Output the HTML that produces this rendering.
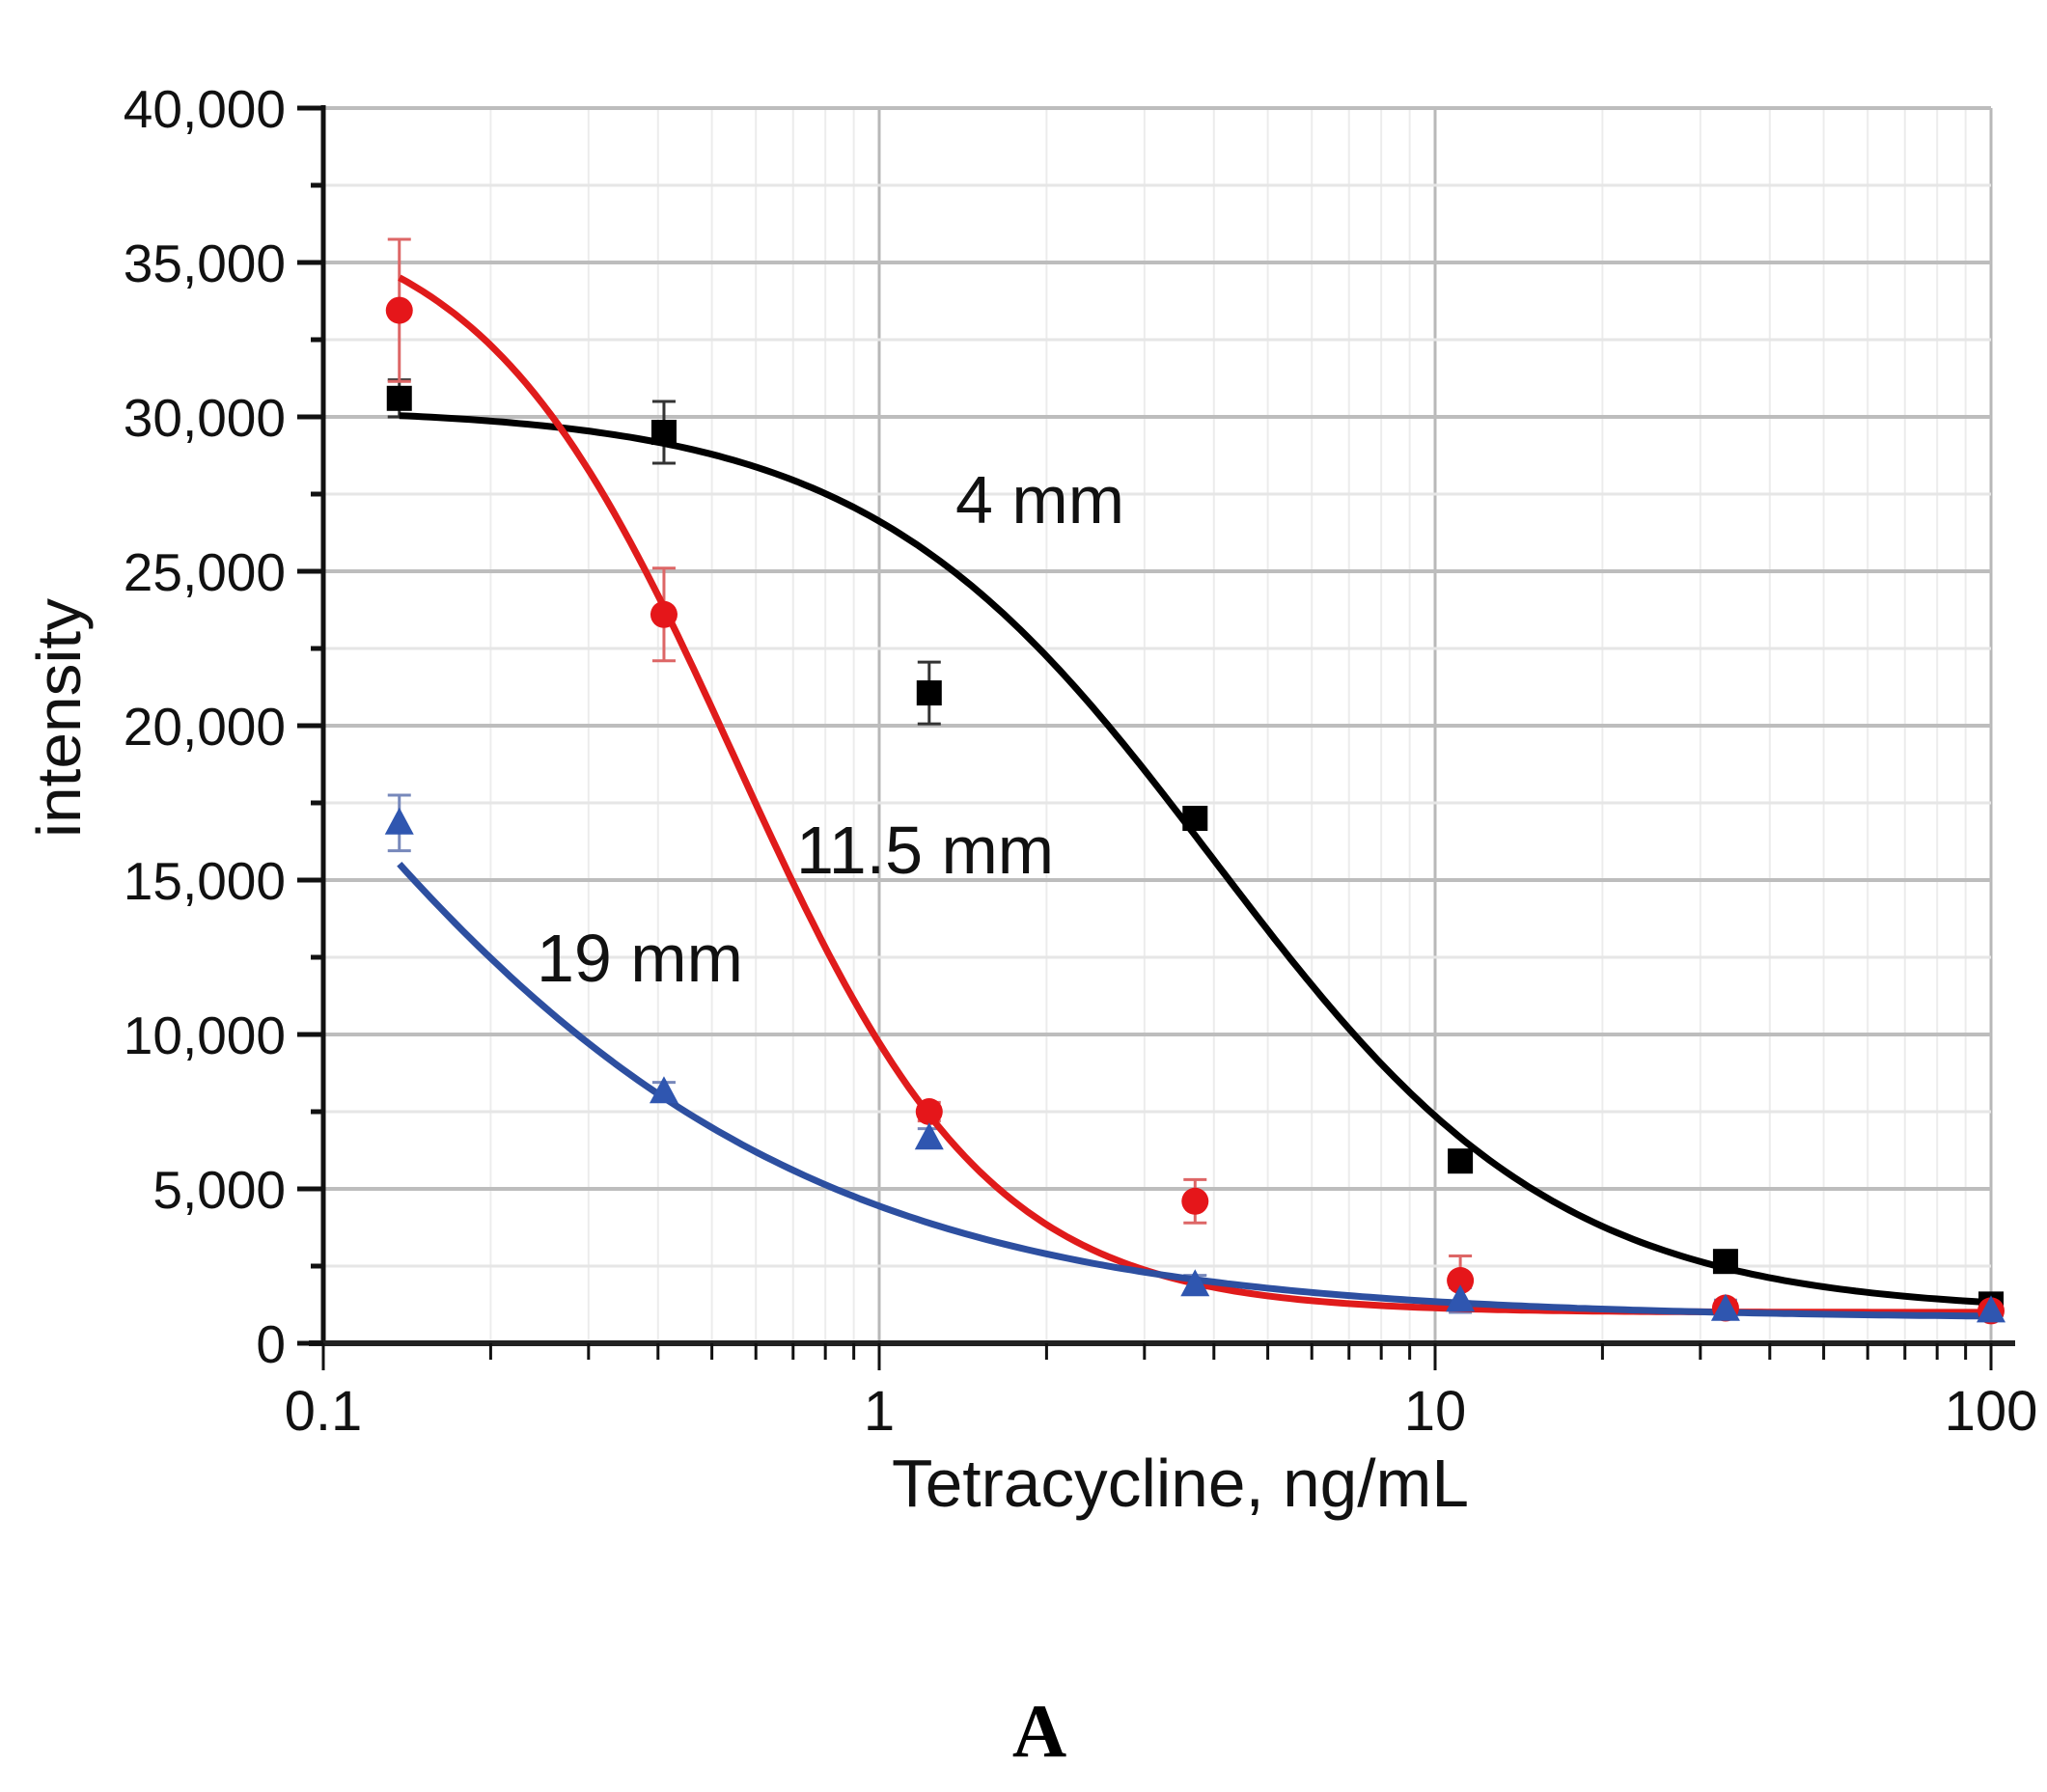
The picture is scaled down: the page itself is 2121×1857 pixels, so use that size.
<!DOCTYPE html>
<html><head><meta charset="utf-8"><style>
html,body{margin:0;padding:0;background:#fff;}
svg{display:block;font-family:"Liberation Sans",Arial,sans-serif;}
</style></head><body>
<svg id="chart" width="2121" height="1857" viewBox="0 0 2121 1857" xmlns="http://www.w3.org/2000/svg">
<g id="grid"></g>
<g id="axes"></g>
<g id="series"></g>
<text x="990" y="542" font-size="70" fill="#111">4 mm</text>
<text x="825" y="905" font-size="70" fill="#111">11.5 mm</text>
<text x="556" y="1017" font-size="70" fill="#111">19 mm</text>
<text x="924" y="1561" font-size="70" textLength="598" lengthAdjust="spacingAndGlyphs" fill="#111">Tetracycline, ng/mL</text>
<text transform="translate(83,744) rotate(-90)" text-anchor="middle" font-size="64" textLength="248" lengthAdjust="spacingAndGlyphs" fill="#111">intensity</text>
<text x="1077" y="1820" text-anchor="middle" font-size="78" font-weight="bold" font-family="Liberation Serif, serif" fill="#000">A</text>
</svg>
<script>
const conc = [0.137, 0.41, 1.23, 3.7, 11.1, 33.3, 100];
const black4mm = [30600, 29500, 21060, 17000, 5900, 2650, 1270];
const black4mmErr = [600, 1000, 1000, 300, 300, 300, 200];
const red115mm = [33450, 23600, 7500, 4600, 2030, 1140, 1050];
const red115mmErr = [2300, 1500, 300, 700, 800, 200, 200];
const blue19mm = [16850, 8150, 6650, 1900, 1400, 1100, 1050];
const blue19mmErr = [900, 300, 300, 300, 400, 300, 300];
// 4PL fit parameters [top, bottom, ic50, hill]
const fitBlack = [30300, 1000, 4.0, 1.4];
const fitRed = [36900, 1000, 0.55, 1.9];
const fitBlue = [48000, 800, 0.054, 0.85];
const yTicks = [0, 5000, 10000, 15000, 20000, 25000, 30000, 35000, 40000];
const yTickLabels = ["0", "5,000", "10,000", "15,000", "20,000", "25,000", "30,000", "35,000", "40,000"];
const xTicks = [0.1, 1, 10, 100];
const xTickLabels = ["0.1", "1", "10", "100"];

const NS = "http://www.w3.org/2000/svg";
const X0 = 335, DEC = 576, Y0 = 1392, YS = 1280 / 40000;
function xs(v){ return X0 + Math.log10(v / 0.1) * DEC; }
function ys(v){ return Y0 - v * YS; }
function mk(parent, tag, attrs){ const e = document.createElementNS(NS, tag); for (const k in attrs) e.setAttribute(k, attrs[k]); parent.appendChild(e); return e; }
const grid = document.getElementById('grid'), axes = document.getElementById('axes'), ser = document.getElementById('series');
const xRight = 2063, yTop = ys(40000);

for (let d = 0; d < 3; d++) {
  for (let m = 1; m <= 9; m++) {
    const v = 0.1 * Math.pow(10, d) * m;
    const x = xs(v);
    const l = mk(grid, 'line', {x1:x, y1:yTop, x2:x, y2:Y0, stroke: m===1 ? '#b8b8b8' : '#ececec', 'stroke-width': m===1 ? 3 : 2});
    
    
  }
}
const rl = mk(grid, 'line', {x1:xs(100), y1:yTop, x2:xs(100), y2:Y0, stroke:'#b8b8b8', 'stroke-width':3});


for (let v = 2500; v <= 40000; v += 2500) {
  const y = ys(v);
  const major = v % 5000 === 0;
  const l = mk(grid, 'line', {x1:X0, y1:y, x2:xRight, y2:y, stroke: major ? '#bdbdbd' : '#e6e6e6', 'stroke-width': major ? 4 : 3});
  
  
}
const ya = mk(axes, 'line', {x1:X0, y1:yTop-3, x2:X0, y2:Y0+3, stroke:'#111', 'stroke-width':5});


const xa = mk(axes, 'line', {x1:X0-15, y1:Y0, x2:2088, y2:Y0, stroke:'#222', 'stroke-width':6});


yTicks.forEach((v, i) => {
  const y = ys(v);
  const t = mk(axes, 'line', {x1:308, y1:y, x2:X0, y2:y, stroke:'#111', 'stroke-width':5});
  
  
  const tx = mk(axes, 'text', {x:296, y:y+20, 'text-anchor':'end', 'font-size':55, fill:'#111'});
  tx.textContent = yTickLabels[i];
  
  
  if (i < yTicks.length - 1) {
    const ym = ys(v + 2500);
    const mt = mk(axes, 'line', {x1:322, y1:ym, x2:X0, y2:ym, stroke:'#111', 'stroke-width':5});
    
    
  }
});
for (let d = 0; d < 3; d++) {
  for (let m = 2; m <= 9; m++) {
    const x = xs(0.1 * Math.pow(10, d) * m);
    const t = mk(axes, 'line', {x1:x, y1:Y0, x2:x, y2:Y0+17, stroke:'#111', 'stroke-width':3});
    
    
  }
}
xTicks.forEach((v, i) => {
  const x = xs(v);
  const t = mk(axes, 'line', {x1:x, y1:Y0, x2:x, y2:Y0+28, stroke:'#111', 'stroke-width':3});
  
  
  const tx = mk(axes, 'text', {x:x, y:1482, 'text-anchor':'middle', 'font-size':58, fill:'#111'});
  tx.textContent = xTickLabels[i];
  
  
});

function fourPL(p, x){ return p[1] + (p[0] - p[1]) / (1 + Math.pow(x / p[2], p[3])); }
function curve(p, color, name){
  let d = '';
  for (let i = 0; i <= 200; i++) {
    const x = conc[0] * Math.pow(conc[conc.length-1] / conc[0], i / 200);
    d += (i ? 'L' : 'M') + xs(x).toFixed(1) + ',' + ys(fourPL(p, x)).toFixed(1);
  }
  const c = mk(ser, 'path', {d:d, fill:'none', stroke:color, 'stroke-width':7});
  
  
}
function errs(vals, e, color, name){
  vals.forEach((v, i) => {
    const x = xs(conc[i]);
    const g = mk(ser, 'path', {d:`M${x},${ys(v+e[i])}V${ys(v-e[i])}M${x-12},${ys(v+e[i])}H${x+12}M${x-12},${ys(v-e[i])}H${x+12}`, stroke:color, 'stroke-width':3, fill:'none'});
    
    
  });
}
errs(black4mm, black4mmErr, '#333', 'error-bar-4mm');
errs(red115mm, red115mmErr, '#d66', 'error-bar-11-5mm');
errs(blue19mm, blue19mmErr, '#7788bb', 'error-bar-19mm');
curve(fitBlack, '#000', 'fit-curve-4mm');
curve(fitRed, '#e01b1b', 'fit-curve-11-5mm');
curve(fitBlue, '#2d4fa0', 'fit-curve-19mm');
black4mm.forEach((v, i) => {
  const s = mk(ser, 'rect', {x:xs(conc[i])-13, y:ys(v)-13, width:26, height:26, fill:'#000'});
  
  
});
red115mm.forEach((v, i) => {
  const c = mk(ser, 'circle', {cx:xs(conc[i]), cy:ys(v), r:14, fill:'#e5161a'});
  
  
});
blue19mm.forEach((v, i) => {
  const x = xs(conc[i]), y = ys(v);
  const t = mk(ser, 'polygon', {points:`${x},${y-16} ${x+15},${y+12} ${x-15},${y+12}`, fill:'#2f56b0'});
  
  
});
</script>
</body></html>
